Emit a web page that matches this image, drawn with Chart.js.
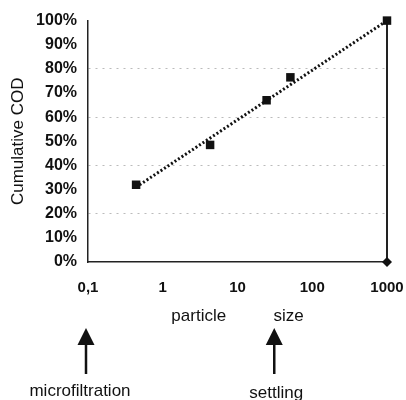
<!DOCTYPE html>
<html>
<head>
<meta charset="utf-8">
<script src="https://cdn.jsdelivr.net/npm/chart.js@4.4.1/dist/chart.umd.min.js"></script>
<style>
  html, body { margin: 0; padding: 0; background: #fff; }
  #wrap { width: 406px; height: 400px; }
</style>
</head>
<body>
<div id="wrap"><canvas id="myChart" width="406" height="400"></canvas></div>
<script>
// Data
const particleSize = [0.44, 4.3, 24.5, 51, 1000];     // x values (log axis)
const cumulativeCOD = [32, 48.5, 67, 76.5, 100];       // %
const trendSize = [0.44, 1000];
const trendCOD = [31, 100];
const limitSize = [1000, 1000];
const limitCOD = [0, 100];
const xTickValues = [0.1, 1, 10, 100, 1000];
const xTickLabels = ['0,1', '1', '10', '100', '1000'];
const yTickValues = [0, 10, 20, 30, 40, 50, 60, 70, 80, 90, 100];
const arrowSizes = [0.1, 33];
const arrowLabels = ['microfiltration', 'settling'];

const toPoints = (xs, ys) => xs.map((x, i) => ({ x: x, y: ys[i] }));

// arrows and their captions under the axis
const arrowPlugin = {
    id: 'arrows',
    afterDraw(chart) {
        const ctx = chart.ctx;
        const xs = chart.scales.x;
        const dx = [-8, 0];
        ctx.save();
        ctx.fillStyle = '#111';
        ctx.strokeStyle = '#111';
        arrowSizes.forEach((v, i) => {
            const px = xs.getPixelForValue(v) - 2;
            ctx.beginPath();
            ctx.moveTo(px, 328);
            ctx.lineTo(px - 8.5, 345);
            ctx.lineTo(px + 8.5, 345);
            ctx.closePath();
            ctx.fill();
            ctx.lineWidth = 2.5;
            ctx.beginPath();
            ctx.moveTo(px, 344);
            ctx.lineTo(px, 374);
            ctx.stroke();
            ctx.font = '17px "Liberation Sans", Arial, sans-serif';
            ctx.textAlign = 'center';
            ctx.textBaseline = 'alphabetic';
            ctx.fillText(arrowLabels[i], px + dx[i] + 2, 396 + i * 2);
        });
        ctx.restore();
    }
};

const font = '"Liberation Sans", Arial, sans-serif';

new Chart(document.getElementById('myChart').getContext('2d'), {
    type: 'scatter',
    data: {
        datasets: [{
            data: toPoints(trendSize, trendCOD),
            showLine: true,
            borderColor: '#111',
            borderWidth: 3,
            borderDash: [2, 2.2],
            pointRadius: 0,
            clip: false
        }, {
            data: toPoints(particleSize, cumulativeCOD),
            pointStyle: 'rect',
            pointRadius: 6,
            backgroundColor: '#111',
            borderColor: '#111',
            borderWidth: 0,
            clip: false
        }, {
            data: toPoints(limitSize, limitCOD),
            showLine: true,
            borderColor: '#222',
            borderWidth: 2,
            pointStyle: 'rectRot',
            pointRadius: [5, 0],
            backgroundColor: '#111',
            pointBorderWidth: 0,
            clip: false
        }]
    },
    options: {
        responsive: false,
        animation: false,
        events: [],
        layout: { padding: { left: 8, right: 19, top: 14, bottom: 73 } },
        plugins: {
            legend: { display: false },
            tooltip: { enabled: false }
        },
        scales: {
            x: {
                type: 'logarithmic',
                min: 0.1,
                max: 1000,
                afterBuildTicks: s => { s.ticks = xTickValues.map(v => ({ value: v })); },
                afterFit: s => { s.height = 65; s.paddingRight = 0; s.paddingLeft = 0; },
                border: { display: true, color: '#222', width: 1.5 },
                grid: { display: false, drawTicks: false },
                ticks: {
                    autoSkip: false,
                    maxRotation: 0,
                    padding: 17,
                    color: '#111',
                    font: { family: font, size: 15, weight: 'bold' },
                    callback: (v) => xTickLabels[xTickValues.indexOf(v)]
                },
                title: {
                    display: true,
                    text: 'particle          size',
                    color: '#111',
                    font: { family: font, size: 17 },
                    padding: 0
                }
            },
            y: {
                min: 0,
                max: 100,
                afterBuildTicks: s => { s.ticks = yTickValues.map(v => ({ value: v })); },
                afterFit: s => { s.width = 80; },
                grid: {
                    drawTicks: false,
                    color: c => (c.tick && c.tick.value % 20 === 0 && c.tick.value > 0 && c.tick.value < 100) ? '#bbb' : 'rgba(0,0,0,0)',
                    lineWidth: 1
                },
                border: { display: true, color: '#222', width: 1.5, dash: [2, 5] },
                ticks: {
                    padding: 11,
                    color: '#111',
                    font: { family: font, size: 16, weight: 'bold' },
                    callback: v => v + '%'
                },
                title: {
                    display: true,
                    text: 'Cumulative COD',
                    color: '#111',
                    font: { family: font, size: 17 },
                    padding: 0
                }
            }
        }
    },
    plugins: [arrowPlugin]
});
</script>
</body>
</html>
